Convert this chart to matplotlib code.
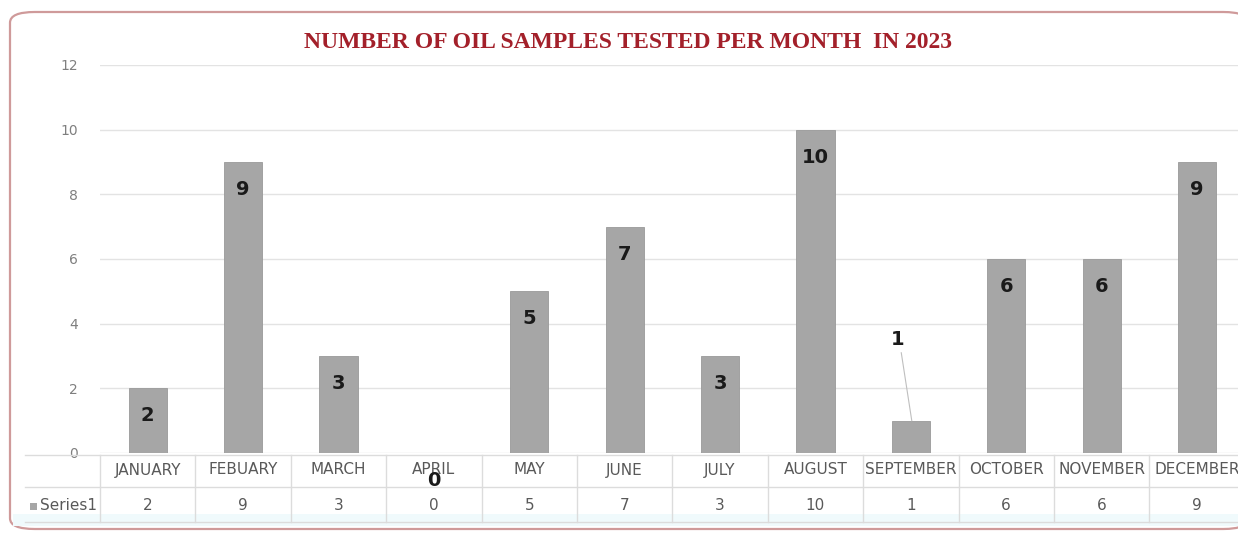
import numpy as np
import matplotlib.pyplot as plt
from matplotlib.patches import FancyBboxPatch, Rectangle
from matplotlib.transforms import blended_transform_factory

#==============================================================================
# Data
#==============================================================================
months = ['JANUARY', 'FEBUARY', 'MARCH', 'APRIL', 'MAY', 'JUNE', 'JULY',
          'AUGUST', 'SEPTEMBER', 'OCTOBER', 'NOVEMBER', 'DECEMBER']
samples = [2, 9, 3, 0, 5, 7, 3, 10, 1, 6, 6, 9]
yticks = [0, 2, 4, 6, 8, 10, 12]

W, H = 1238, 535
narrow = ['Liberation Sans Narrow', 'DejaVu Sans']

#==============================================================================
# Figure and frame
#==============================================================================
fig = plt.figure(figsize=(W / 100, H / 100), dpi=100)
fig.patch.set_facecolor('white')

frame = FancyBboxPatch((10 / W, 6 / H), 1.0, (H - 18) / H,
                       boxstyle='round,pad=0,rounding_size=0.02',
                       transform=fig.transFigure, facecolor='white',
                       edgecolor='#cf9a9a', linewidth=1.6, zorder=-2)
fig.patches.append(frame)
fig.patches.append(Rectangle((13 / W, 9 / H), 1.0, 12 / H,
                             transform=fig.transFigure, facecolor='#f0fafc',
                             edgecolor='none', zorder=-1))

#==============================================================================
# Bar chart
#==============================================================================
ax = fig.add_axes([100 / W, 82 / H, (W - 100) / W, 388 / H])
ax.set_facecolor('none')
x = np.arange(len(months))
ax.bar(x, samples, width=0.4, color='#a6a6a6', edgecolor='#999999',
       linewidth=0.6, zorder=3)
ax.set_xlim(-0.5, 11.43)
ax.set_ylim(0, 12)
ax.set_yticks(yticks)
ax.set_yticklabels([str(t) for t in yticks], fontsize=10, color='#7f7f7f',
                   family=narrow)
ax.tick_params(axis='y', length=0, pad=16)
ax.set_xticks([])
ax.grid(axis='y', color='#e3e3e3', linewidth=1, zorder=0)
for s in ax.spines.values():
    s.set_visible(False)

# data labels
for i, v in enumerate(samples):
    if v == 1:
        ax.text(i - 0.14, 3.5, str(v), ha='center', va='center', fontsize=14,
                fontweight='bold', color='#1a1a1a', zorder=5)
        ax.plot([i - 0.1, i + 0.01], [3.1, 1.0], color='#bfbfbf',
                linewidth=0.8, zorder=4)
    else:
        ax.text(i, v - 0.85, str(v), ha='center', va='center', fontsize=14,
                fontweight='bold', color='#1a1a1a', zorder=5, clip_on=False)

#==============================================================================
# Data table under the axis
#==============================================================================
tr = blended_transform_factory(ax.transData, fig.transFigure)
def fy(py):
    return 1 - py / H

row_lines = [455, 487, 522]
for py in row_lines:
    ax.plot([-0.5 - 75 / 95.4, 11.43], [fy(py), fy(py)], transform=tr,
            color='#dcdcdc', linewidth=1, clip_on=False)
for k in range(len(months) + 1):
    ax.plot([k - 0.5, k - 0.5], [fy(455), fy(522)], transform=tr,
            color='#dcdcdc', linewidth=1, clip_on=False)
for i, (m, v) in enumerate(zip(months, samples)):
    ax.text(i, fy(470), m, transform=tr, ha='center', va='center',
            fontsize=11, color='#595959', family=narrow, zorder=2)
    ax.text(i, fy(506), str(v), transform=tr, ha='center', va='center',
            fontsize=11, color='#595959', family=narrow)

fig.patches.append(Rectangle((30 / W, fy(510)), 7 / W, 7 / H,
                             transform=fig.transFigure, facecolor='#a6a6a6',
                             edgecolor='none'))
fig.text(40 / W, fy(506), 'Series1', ha='left', va='center', fontsize=11,
         color='#595959', family=narrow)

#==============================================================================
# Title
#==============================================================================
fig.text(628 / W, fy(42), 'NUMBER OF OIL SAMPLES TESTED PER MONTH  IN 2023',
         ha='center', va='center', fontsize=17, fontweight='bold',
         color='#a3202a', family='Liberation Serif')

fig.savefig('out.png', dpi=100)
